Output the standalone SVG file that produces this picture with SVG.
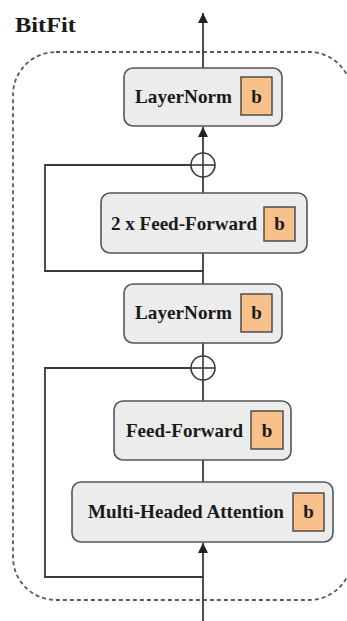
<svg xmlns="http://www.w3.org/2000/svg" width="347" height="621" viewBox="0 0 347 621">
<defs>
<marker id="arr" viewBox="0 0 10 10" refX="10" refY="5" markerWidth="10" markerHeight="10" markerUnits="userSpaceOnUse" orient="auto">
<path d="M0,0 L10,5 L0,10 Z" fill="#222"/>
</marker>
<style>
.box{fill:#ececec;stroke:#555;stroke-width:1.6}
.bb{fill:#f8c08a;stroke:#444;stroke-width:1.4}
.t{font-family:"Liberation Serif","Times New Roman",serif;font-weight:bold;font-size:19px;fill:#1a1a1a}
.ln{fill:none;stroke:#3a3a3a;stroke-width:1.8}
.plus{fill:none;stroke:#3a3a3a;stroke-width:1.6}
</style>
</defs>
<rect width="347" height="621" fill="#fff"/>
<text x="15" y="32" class="t" style="font-size:22px" textLength="61" lengthAdjust="spacingAndGlyphs">BitFit</text>
<rect id="frame" x="13" y="52" width="339" height="548" rx="43" ry="43" fill="none" stroke="#5a5a5a" stroke-width="1.8" stroke-dasharray="4 3"/>
<g id="connectors">
<line class="ln" x1="203" y1="68" x2="203" y2="13" marker-end="url(#arr)"/>
<line class="ln" x1="203" y1="153" x2="203" y2="127" marker-end="url(#arr)"/>
<line class="ln" x1="203" y1="177" x2="203" y2="193"/>
<line class="ln" x1="203" y1="253" x2="203" y2="284"/>
<polyline class="ln" points="191,165 45,165 45,271 203,271"/>
<line class="ln" x1="203" y1="343" x2="203" y2="356"/>
<line class="ln" x1="203" y1="380" x2="203" y2="401"/>
<line class="ln" x1="203" y1="460" x2="203" y2="482"/>
<polyline class="ln" points="191,368 45,368 45,577 203,577"/>
<line class="ln" x1="203" y1="621" x2="203" y2="543" marker-end="url(#arr)"/>
</g>
<g id="add1">
<circle class="plus" cx="203" cy="165" r="12"/>
<line class="plus" x1="191" y1="165" x2="215" y2="165"/>
<line class="plus" x1="203" y1="153" x2="203" y2="177"/>
</g>
<g id="add2">
<circle class="plus" cx="203" cy="368" r="12"/>
<line class="plus" x1="191" y1="368" x2="215" y2="368"/>
<line class="plus" x1="203" y1="356" x2="203" y2="380"/>
</g>
<g id="layernorm-top">
<rect class="box" x="124" y="68" width="158" height="58" rx="9"/>
<text class="t" x="135" y="103" textLength="97" lengthAdjust="spacingAndGlyphs">LayerNorm</text>
<rect class="bb" x="241" y="77" width="31" height="38"/>
<text class="t" x="256.5" y="103" text-anchor="middle">b</text>
</g>
<g id="ff2x">
<rect class="box" x="101" y="193" width="206" height="60" rx="9"/>
<text class="t" x="111" y="230" textLength="146" lengthAdjust="spacingAndGlyphs">2 x Feed-Forward</text>
<rect class="bb" x="264" y="207" width="31" height="34"/>
<text class="t" x="279.5" y="230" text-anchor="middle">b</text>
</g>
<g id="layernorm-mid">
<rect class="box" x="124" y="284" width="158" height="59" rx="9"/>
<text class="t" x="135" y="319" textLength="97" lengthAdjust="spacingAndGlyphs">LayerNorm</text>
<rect class="bb" x="241" y="294" width="31" height="38"/>
<text class="t" x="256.5" y="319" text-anchor="middle">b</text>
</g>
<g id="ff">
<rect class="box" x="114" y="401" width="177" height="59" rx="9"/>
<text class="t" x="126" y="437" textLength="117" lengthAdjust="spacingAndGlyphs">Feed-Forward</text>
<rect class="bb" x="251" y="411" width="32" height="38"/>
<text class="t" x="267" y="437" text-anchor="middle">b</text>
</g>
<g id="mha">
<rect class="box" x="72" y="482" width="261" height="60" rx="9"/>
<text class="t" x="88" y="518" textLength="196" lengthAdjust="spacingAndGlyphs">Multi-Headed Attention</text>
<rect class="bb" x="293" y="493" width="31" height="38"/>
<text class="t" x="308.5" y="518" text-anchor="middle">b</text>
</g>
</svg>
